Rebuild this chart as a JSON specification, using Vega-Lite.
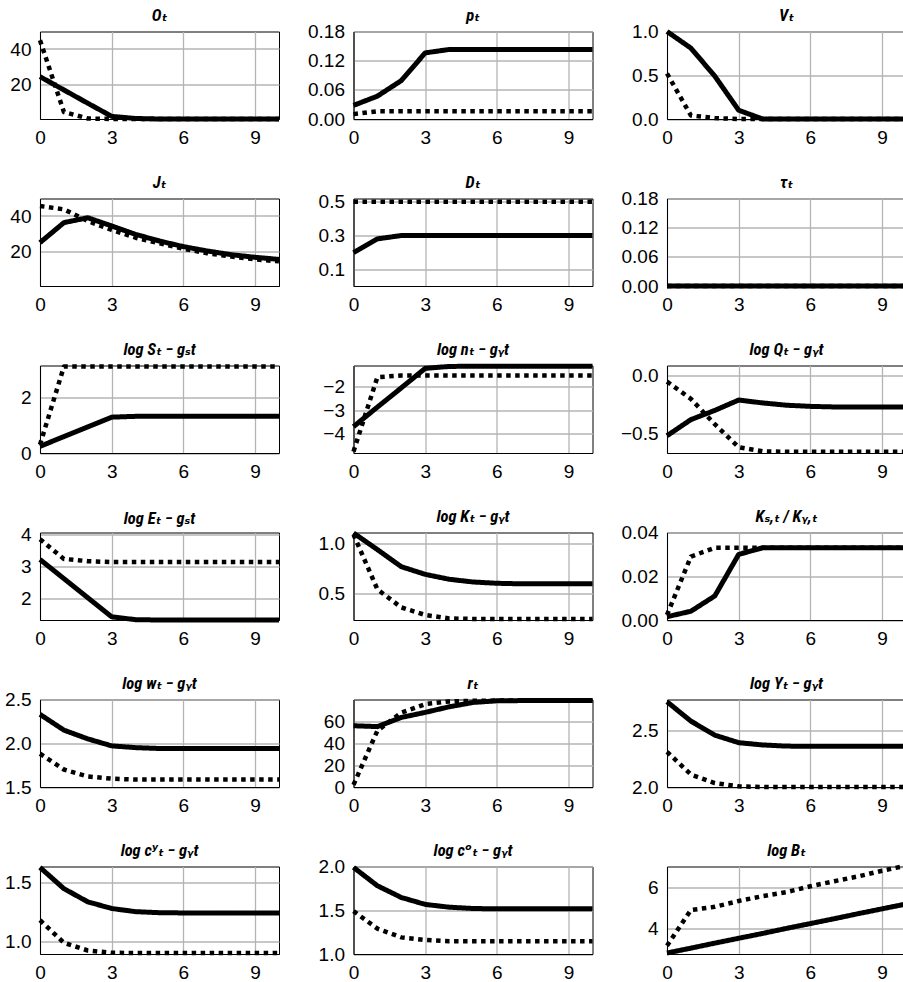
{
"$schema": "https://vega.github.io/schema/vega-lite/v6.json",
"padding": {"left": 0, "top": 7.5, "right": 0, "bottom": 0},
"background": "white",
"columns": 3,
"bounds": "flush",
"spacing": {"row": 79, "column": 74.5},
"data": {"values": [
{"v":"O","s":"d","t":0,"y":45},{"v":"O","s":"d","t":1,"y":4},{"v":"O","s":"d","t":2,"y":0.3},{"v":"O","s":"d","t":3,"y":0},{"v":"O","s":"d","t":4,"y":0},{"v":"O","s":"d","t":5,"y":0},{"v":"O","s":"d","t":6,"y":0},{"v":"O","s":"d","t":7,"y":0},{"v":"O","s":"d","t":8,"y":0},{"v":"O","s":"d","t":9,"y":0},{"v":"O","s":"d","t":10,"y":0},
{"v":"O","s":"s","t":0,"y":24.2},{"v":"O","s":"s","t":1,"y":16.6},{"v":"O","s":"s","t":2,"y":9},{"v":"O","s":"s","t":3,"y":1.5},{"v":"O","s":"s","t":4,"y":0.3},{"v":"O","s":"s","t":5,"y":0},{"v":"O","s":"s","t":6,"y":0},{"v":"O","s":"s","t":7,"y":0},{"v":"O","s":"s","t":8,"y":0},{"v":"O","s":"s","t":9,"y":0},{"v":"O","s":"s","t":10,"y":0},
{"v":"p","s":"d","t":0,"y":0.010},{"v":"p","s":"d","t":1,"y":0.016},{"v":"p","s":"d","t":2,"y":0.016},{"v":"p","s":"d","t":3,"y":0.016},{"v":"p","s":"d","t":4,"y":0.016},{"v":"p","s":"d","t":5,"y":0.016},{"v":"p","s":"d","t":6,"y":0.016},{"v":"p","s":"d","t":7,"y":0.016},{"v":"p","s":"d","t":8,"y":0.016},{"v":"p","s":"d","t":9,"y":0.016},{"v":"p","s":"d","t":10,"y":0.016},
{"v":"p","s":"s","t":0,"y":0.028},{"v":"p","s":"s","t":1,"y":0.047},{"v":"p","s":"s","t":2,"y":0.079},{"v":"p","s":"s","t":3,"y":0.136},{"v":"p","s":"s","t":4,"y":0.143},{"v":"p","s":"s","t":5,"y":0.143},{"v":"p","s":"s","t":6,"y":0.143},{"v":"p","s":"s","t":7,"y":0.143},{"v":"p","s":"s","t":8,"y":0.143},{"v":"p","s":"s","t":9,"y":0.143},{"v":"p","s":"s","t":10,"y":0.143},
{"v":"V","s":"d","t":0,"y":0.52},{"v":"V","s":"d","t":1,"y":0.04},{"v":"V","s":"d","t":2,"y":0.01},{"v":"V","s":"d","t":3,"y":0},{"v":"V","s":"d","t":4,"y":0},{"v":"V","s":"d","t":5,"y":0},{"v":"V","s":"d","t":6,"y":0},{"v":"V","s":"d","t":7,"y":0},{"v":"V","s":"d","t":8,"y":0},{"v":"V","s":"d","t":9,"y":0},{"v":"V","s":"d","t":10,"y":0},
{"v":"V","s":"s","t":0,"y":1.0},{"v":"V","s":"s","t":1,"y":0.81},{"v":"V","s":"s","t":2,"y":0.49},{"v":"V","s":"s","t":3,"y":0.1},{"v":"V","s":"s","t":4,"y":0},{"v":"V","s":"s","t":5,"y":0},{"v":"V","s":"s","t":6,"y":0},{"v":"V","s":"s","t":7,"y":0},{"v":"V","s":"s","t":8,"y":0},{"v":"V","s":"s","t":9,"y":0},{"v":"V","s":"s","t":10,"y":0},
{"v":"J","s":"d","t":0,"y":45.7},{"v":"J","s":"d","t":1,"y":43.8},{"v":"J","s":"d","t":2,"y":37.1},{"v":"J","s":"d","t":3,"y":32},{"v":"J","s":"d","t":4,"y":27.6},{"v":"J","s":"d","t":5,"y":24.4},{"v":"J","s":"d","t":6,"y":21.3},{"v":"J","s":"d","t":7,"y":18.7},{"v":"J","s":"d","t":8,"y":16.8},{"v":"J","s":"d","t":9,"y":15.2},{"v":"J","s":"d","t":10,"y":14.1},
{"v":"J","s":"s","t":0,"y":24.8},{"v":"J","s":"s","t":1,"y":36.2},{"v":"J","s":"s","t":2,"y":39},{"v":"J","s":"s","t":3,"y":34.3},{"v":"J","s":"s","t":4,"y":29.5},{"v":"J","s":"s","t":5,"y":25.7},{"v":"J","s":"s","t":6,"y":22.5},{"v":"J","s":"s","t":7,"y":20},{"v":"J","s":"s","t":8,"y":17.9},{"v":"J","s":"s","t":9,"y":16.4},{"v":"J","s":"s","t":10,"y":15.2},
{"v":"D","s":"d","t":0,"y":0.5},{"v":"D","s":"d","t":1,"y":0.5},{"v":"D","s":"d","t":2,"y":0.5},{"v":"D","s":"d","t":3,"y":0.5},{"v":"D","s":"d","t":4,"y":0.5},{"v":"D","s":"d","t":5,"y":0.5},{"v":"D","s":"d","t":6,"y":0.5},{"v":"D","s":"d","t":7,"y":0.5},{"v":"D","s":"d","t":8,"y":0.5},{"v":"D","s":"d","t":9,"y":0.5},{"v":"D","s":"d","t":10,"y":0.5},
{"v":"D","s":"s","t":0,"y":0.198},{"v":"D","s":"s","t":1,"y":0.28},{"v":"D","s":"s","t":2,"y":0.3},{"v":"D","s":"s","t":3,"y":0.3},{"v":"D","s":"s","t":4,"y":0.3},{"v":"D","s":"s","t":5,"y":0.3},{"v":"D","s":"s","t":6,"y":0.3},{"v":"D","s":"s","t":7,"y":0.3},{"v":"D","s":"s","t":8,"y":0.3},{"v":"D","s":"s","t":9,"y":0.3},{"v":"D","s":"s","t":10,"y":0.3},
{"v":"tau","s":"d","t":0,"y":0},{"v":"tau","s":"d","t":1,"y":0},{"v":"tau","s":"d","t":2,"y":0},{"v":"tau","s":"d","t":3,"y":0},{"v":"tau","s":"d","t":4,"y":0},{"v":"tau","s":"d","t":5,"y":0},{"v":"tau","s":"d","t":6,"y":0},{"v":"tau","s":"d","t":7,"y":0},{"v":"tau","s":"d","t":8,"y":0},{"v":"tau","s":"d","t":9,"y":0},{"v":"tau","s":"d","t":10,"y":0},
{"v":"tau","s":"s","t":0,"y":0},{"v":"tau","s":"s","t":1,"y":0},{"v":"tau","s":"s","t":2,"y":0},{"v":"tau","s":"s","t":3,"y":0},{"v":"tau","s":"s","t":4,"y":0},{"v":"tau","s":"s","t":5,"y":0},{"v":"tau","s":"s","t":6,"y":0},{"v":"tau","s":"s","t":7,"y":0},{"v":"tau","s":"s","t":8,"y":0},{"v":"tau","s":"s","t":9,"y":0},{"v":"tau","s":"s","t":10,"y":0},
{"v":"S","s":"d","t":0,"y":0.3},{"v":"S","s":"d","t":1,"y":3.11},{"v":"S","s":"d","t":2,"y":3.11},{"v":"S","s":"d","t":3,"y":3.11},{"v":"S","s":"d","t":4,"y":3.11},{"v":"S","s":"d","t":5,"y":3.11},{"v":"S","s":"d","t":6,"y":3.11},{"v":"S","s":"d","t":7,"y":3.11},{"v":"S","s":"d","t":8,"y":3.11},{"v":"S","s":"d","t":9,"y":3.11},{"v":"S","s":"d","t":10,"y":3.11},
{"v":"S","s":"s","t":0,"y":0.24},{"v":"S","s":"s","t":1,"y":0.59},{"v":"S","s":"s","t":2,"y":0.94},{"v":"S","s":"s","t":3,"y":1.29},{"v":"S","s":"s","t":4,"y":1.32},{"v":"S","s":"s","t":5,"y":1.32},{"v":"S","s":"s","t":6,"y":1.32},{"v":"S","s":"s","t":7,"y":1.32},{"v":"S","s":"s","t":8,"y":1.32},{"v":"S","s":"s","t":9,"y":1.32},{"v":"S","s":"s","t":10,"y":1.32},
{"v":"n","s":"d","t":0,"y":-4.74},{"v":"n","s":"d","t":1,"y":-1.61},{"v":"n","s":"d","t":2,"y":-1.54},{"v":"n","s":"d","t":3,"y":-1.54},{"v":"n","s":"d","t":4,"y":-1.54},{"v":"n","s":"d","t":5,"y":-1.54},{"v":"n","s":"d","t":6,"y":-1.54},{"v":"n","s":"d","t":7,"y":-1.54},{"v":"n","s":"d","t":8,"y":-1.54},{"v":"n","s":"d","t":9,"y":-1.54},{"v":"n","s":"d","t":10,"y":-1.54},
{"v":"n","s":"s","t":0,"y":-3.69},{"v":"n","s":"s","t":1,"y":-2.87},{"v":"n","s":"s","t":2,"y":-2.06},{"v":"n","s":"s","t":3,"y":-1.24},{"v":"n","s":"s","t":4,"y":-1.16},{"v":"n","s":"s","t":5,"y":-1.15},{"v":"n","s":"s","t":6,"y":-1.15},{"v":"n","s":"s","t":7,"y":-1.15},{"v":"n","s":"s","t":8,"y":-1.15},{"v":"n","s":"s","t":9,"y":-1.15},{"v":"n","s":"s","t":10,"y":-1.15},
{"v":"Q","s":"d","t":0,"y":-0.05},{"v":"Q","s":"d","t":1,"y":-0.2},{"v":"Q","s":"d","t":2,"y":-0.42},{"v":"Q","s":"d","t":3,"y":-0.62},{"v":"Q","s":"d","t":4,"y":-0.655},{"v":"Q","s":"d","t":5,"y":-0.66},{"v":"Q","s":"d","t":6,"y":-0.66},{"v":"Q","s":"d","t":7,"y":-0.66},{"v":"Q","s":"d","t":8,"y":-0.66},{"v":"Q","s":"d","t":9,"y":-0.66},{"v":"Q","s":"d","t":10,"y":-0.66},
{"v":"Q","s":"s","t":0,"y":-0.52},{"v":"Q","s":"s","t":1,"y":-0.38},{"v":"Q","s":"s","t":2,"y":-0.3},{"v":"Q","s":"s","t":3,"y":-0.21},{"v":"Q","s":"s","t":4,"y":-0.235},{"v":"Q","s":"s","t":5,"y":-0.255},{"v":"Q","s":"s","t":6,"y":-0.265},{"v":"Q","s":"s","t":7,"y":-0.27},{"v":"Q","s":"s","t":8,"y":-0.27},{"v":"Q","s":"s","t":9,"y":-0.27},{"v":"Q","s":"s","t":10,"y":-0.27},
{"v":"E","s":"d","t":0,"y":3.86},{"v":"E","s":"d","t":1,"y":3.24},{"v":"E","s":"d","t":2,"y":3.17},{"v":"E","s":"d","t":3,"y":3.14},{"v":"E","s":"d","t":4,"y":3.14},{"v":"E","s":"d","t":5,"y":3.14},{"v":"E","s":"d","t":6,"y":3.14},{"v":"E","s":"d","t":7,"y":3.14},{"v":"E","s":"d","t":8,"y":3.14},{"v":"E","s":"d","t":9,"y":3.14},{"v":"E","s":"d","t":10,"y":3.14},
{"v":"E","s":"s","t":0,"y":3.22},{"v":"E","s":"s","t":1,"y":2.62},{"v":"E","s":"s","t":2,"y":2.02},{"v":"E","s":"s","t":3,"y":1.42},{"v":"E","s":"s","t":4,"y":1.33},{"v":"E","s":"s","t":5,"y":1.32},{"v":"E","s":"s","t":6,"y":1.32},{"v":"E","s":"s","t":7,"y":1.32},{"v":"E","s":"s","t":8,"y":1.32},{"v":"E","s":"s","t":9,"y":1.32},{"v":"E","s":"s","t":10,"y":1.32},
{"v":"K","s":"d","t":0,"y":1.09},{"v":"K","s":"d","t":1,"y":0.545},{"v":"K","s":"d","t":2,"y":0.365},{"v":"K","s":"d","t":3,"y":0.29},{"v":"K","s":"d","t":4,"y":0.256},{"v":"K","s":"d","t":5,"y":0.25},{"v":"K","s":"d","t":6,"y":0.25},{"v":"K","s":"d","t":7,"y":0.25},{"v":"K","s":"d","t":8,"y":0.25},{"v":"K","s":"d","t":9,"y":0.25},{"v":"K","s":"d","t":10,"y":0.25},
{"v":"K","s":"s","t":0,"y":1.105},{"v":"K","s":"s","t":1,"y":0.94},{"v":"K","s":"s","t":2,"y":0.77},{"v":"K","s":"s","t":3,"y":0.694},{"v":"K","s":"s","t":4,"y":0.645},{"v":"K","s":"s","t":5,"y":0.618},{"v":"K","s":"s","t":6,"y":0.605},{"v":"K","s":"s","t":7,"y":0.6},{"v":"K","s":"s","t":8,"y":0.6},{"v":"K","s":"s","t":9,"y":0.6},{"v":"K","s":"s","t":10,"y":0.6},
{"v":"Ks","s":"d","t":0,"y":0.0023},{"v":"Ks","s":"d","t":1,"y":0.029},{"v":"Ks","s":"d","t":2,"y":0.033},{"v":"Ks","s":"d","t":3,"y":0.033},{"v":"Ks","s":"d","t":4,"y":0.033},{"v":"Ks","s":"d","t":5,"y":0.033},{"v":"Ks","s":"d","t":6,"y":0.033},{"v":"Ks","s":"d","t":7,"y":0.033},{"v":"Ks","s":"d","t":8,"y":0.033},{"v":"Ks","s":"d","t":9,"y":0.033},{"v":"Ks","s":"d","t":10,"y":0.033},
{"v":"Ks","s":"s","t":0,"y":0.0015},{"v":"Ks","s":"s","t":1,"y":0.004},{"v":"Ks","s":"s","t":2,"y":0.011},{"v":"Ks","s":"s","t":3,"y":0.03},{"v":"Ks","s":"s","t":4,"y":0.033},{"v":"Ks","s":"s","t":5,"y":0.033},{"v":"Ks","s":"s","t":6,"y":0.033},{"v":"Ks","s":"s","t":7,"y":0.033},{"v":"Ks","s":"s","t":8,"y":0.033},{"v":"Ks","s":"s","t":9,"y":0.033},{"v":"Ks","s":"s","t":10,"y":0.033},
{"v":"w","s":"d","t":0,"y":1.88},{"v":"w","s":"d","t":1,"y":1.7},{"v":"w","s":"d","t":2,"y":1.62},{"v":"w","s":"d","t":3,"y":1.595},{"v":"w","s":"d","t":4,"y":1.585},{"v":"w","s":"d","t":5,"y":1.585},{"v":"w","s":"d","t":6,"y":1.585},{"v":"w","s":"d","t":7,"y":1.585},{"v":"w","s":"d","t":8,"y":1.585},{"v":"w","s":"d","t":9,"y":1.585},{"v":"w","s":"d","t":10,"y":1.585},
{"v":"w","s":"s","t":0,"y":2.33},{"v":"w","s":"s","t":1,"y":2.15},{"v":"w","s":"s","t":2,"y":2.05},{"v":"w","s":"s","t":3,"y":1.97},{"v":"w","s":"s","t":4,"y":1.95},{"v":"w","s":"s","t":5,"y":1.94},{"v":"w","s":"s","t":6,"y":1.94},{"v":"w","s":"s","t":7,"y":1.94},{"v":"w","s":"s","t":8,"y":1.94},{"v":"w","s":"s","t":9,"y":1.94},{"v":"w","s":"s","t":10,"y":1.94},
{"v":"r","s":"d","t":0,"y":2},{"v":"r","s":"d","t":1,"y":51.5},{"v":"r","s":"d","t":2,"y":68},{"v":"r","s":"d","t":3,"y":75.8},{"v":"r","s":"d","t":4,"y":78.2},{"v":"r","s":"d","t":5,"y":78.8},{"v":"r","s":"d","t":6,"y":79},{"v":"r","s":"d","t":7,"y":79},{"v":"r","s":"d","t":8,"y":79},{"v":"r","s":"d","t":9,"y":79},{"v":"r","s":"d","t":10,"y":79},
{"v":"r","s":"s","t":0,"y":56},{"v":"r","s":"s","t":1,"y":55.2},{"v":"r","s":"s","t":2,"y":63.6},{"v":"r","s":"s","t":3,"y":68.2},{"v":"r","s":"s","t":4,"y":73.3},{"v":"r","s":"s","t":5,"y":77.3},{"v":"r","s":"s","t":6,"y":78.8},{"v":"r","s":"s","t":7,"y":79},{"v":"r","s":"s","t":8,"y":79},{"v":"r","s":"s","t":9,"y":79},{"v":"r","s":"s","t":10,"y":79},
{"v":"Y","s":"d","t":0,"y":2.31},{"v":"Y","s":"d","t":1,"y":2.11},{"v":"Y","s":"d","t":2,"y":2.035},{"v":"Y","s":"d","t":3,"y":2.006},{"v":"Y","s":"d","t":4,"y":2.0},{"v":"Y","s":"d","t":5,"y":2.0},{"v":"Y","s":"d","t":6,"y":2.0},{"v":"Y","s":"d","t":7,"y":2.0},{"v":"Y","s":"d","t":8,"y":2.0},{"v":"Y","s":"d","t":9,"y":2.0},{"v":"Y","s":"d","t":10,"y":2.0},
{"v":"Y","s":"s","t":0,"y":2.75},{"v":"Y","s":"s","t":1,"y":2.58},{"v":"Y","s":"s","t":2,"y":2.456},{"v":"Y","s":"s","t":3,"y":2.39},{"v":"Y","s":"s","t":4,"y":2.37},{"v":"Y","s":"s","t":5,"y":2.36},{"v":"Y","s":"s","t":6,"y":2.358},{"v":"Y","s":"s","t":7,"y":2.358},{"v":"Y","s":"s","t":8,"y":2.358},{"v":"Y","s":"s","t":9,"y":2.358},{"v":"Y","s":"s","t":10,"y":2.358},
{"v":"cy","s":"d","t":0,"y":1.18},{"v":"cy","s":"d","t":1,"y":0.986},{"v":"cy","s":"d","t":2,"y":0.92},{"v":"cy","s":"d","t":3,"y":0.9},{"v":"cy","s":"d","t":4,"y":0.899},{"v":"cy","s":"d","t":5,"y":0.899},{"v":"cy","s":"d","t":6,"y":0.899},{"v":"cy","s":"d","t":7,"y":0.899},{"v":"cy","s":"d","t":8,"y":0.899},{"v":"cy","s":"d","t":9,"y":0.899},{"v":"cy","s":"d","t":10,"y":0.899},
{"v":"cy","s":"s","t":0,"y":1.632},{"v":"cy","s":"s","t":1,"y":1.45},{"v":"cy","s":"s","t":2,"y":1.337},{"v":"cy","s":"s","t":3,"y":1.28},{"v":"cy","s":"s","t":4,"y":1.253},{"v":"cy","s":"s","t":5,"y":1.244},{"v":"cy","s":"s","t":6,"y":1.242},{"v":"cy","s":"s","t":7,"y":1.242},{"v":"cy","s":"s","t":8,"y":1.242},{"v":"cy","s":"s","t":9,"y":1.242},{"v":"cy","s":"s","t":10,"y":1.242},
{"v":"co","s":"d","t":0,"y":1.49},{"v":"co","s":"d","t":1,"y":1.29},{"v":"co","s":"d","t":2,"y":1.19},{"v":"co","s":"d","t":3,"y":1.16},{"v":"co","s":"d","t":4,"y":1.146},{"v":"co","s":"d","t":5,"y":1.146},{"v":"co","s":"d","t":6,"y":1.146},{"v":"co","s":"d","t":7,"y":1.146},{"v":"co","s":"d","t":8,"y":1.146},{"v":"co","s":"d","t":9,"y":1.146},{"v":"co","s":"d","t":10,"y":1.146},
{"v":"co","s":"s","t":0,"y":1.99},{"v":"co","s":"s","t":1,"y":1.78},{"v":"co","s":"s","t":2,"y":1.646},{"v":"co","s":"s","t":3,"y":1.567},{"v":"co","s":"s","t":4,"y":1.535},{"v":"co","s":"s","t":5,"y":1.52},{"v":"co","s":"s","t":6,"y":1.516},{"v":"co","s":"s","t":7,"y":1.516},{"v":"co","s":"s","t":8,"y":1.516},{"v":"co","s":"s","t":9,"y":1.516},{"v":"co","s":"s","t":10,"y":1.516},
{"v":"B","s":"d","t":0,"y":3.13},{"v":"B","s":"d","t":1,"y":4.9},{"v":"B","s":"d","t":2,"y":5.06},{"v":"B","s":"d","t":3,"y":5.35},{"v":"B","s":"d","t":4,"y":5.59},{"v":"B","s":"d","t":5,"y":5.79},{"v":"B","s":"d","t":6,"y":6.08},{"v":"B","s":"d","t":7,"y":6.33},{"v":"B","s":"d","t":8,"y":6.57},{"v":"B","s":"d","t":9,"y":6.85},{"v":"B","s":"d","t":10,"y":7.1},
{"v":"B","s":"s","t":0,"y":2.77},{"v":"B","s":"s","t":1,"y":3.01},{"v":"B","s":"s","t":2,"y":3.26},{"v":"B","s":"s","t":3,"y":3.5},{"v":"B","s":"s","t":4,"y":3.74},{"v":"B","s":"s","t":5,"y":3.99},{"v":"B","s":"s","t":6,"y":4.23},{"v":"B","s":"s","t":7,"y":4.47},{"v":"B","s":"s","t":8,"y":4.72},{"v":"B","s":"s","t":9,"y":4.96},{"v":"B","s":"s","t":10,"y":5.2}
]},
"config": {
  "view": {"stroke": "#000", "strokeWidth": 1},
  "axis": {"grid": true, "gridColor": "#b4b4b4", "gridWidth": 1.3, "domainColor": "#000", "domainWidth": 1, "ticks": false, "labelFont": "Liberation Sans", "labelFontSize": 19, "labelColor": "#000", "labelPadding": 9, "labelOverlap": false, "labelFlush": false},
  "axisX": {"minExtent": 28, "maxExtent": 28},
  "axisY": {"minExtent": 39.5, "maxExtent": 39.5},
  "title": {"font": "Roboto Condensed, DejaVu Sans Condensed, Roboto, sans-serif", "fontSize": 16.5, "fontWeight": "bold", "fontStyle": "italic", "offset": -2, "baseline": "alphabetic", "color": "#000", "anchor": "middle", "frame": "group"},
  "line": {"strokeCap": "butt", "strokeJoin": "round", "color": "#000"}
},
"concat": [
{"title": "Oₜ", "width": 239, "height": 87.5, "transform": [{"filter": "datum.v === 'O'"}], "mark": "line",
 "encoding": {"x": {"field": "t", "type": "quantitative", "scale": {"domain": [0, 10], "nice": false}, "axis": {"values": [0,3,6,9], "title": null}},
  "y": {"field": "y", "type": "quantitative", "scale": {"domain": [0, 50], "nice": false, "zero": false}, "axis": {"values": [20,40,50], "format": "d", "title": null, "labelExpr": "datum.value > 45 ? ' ' : datum.label", "gridOpacity": {"condition": {"test": "datum.value > 45", "value": 0}, "value": 1}}},
  "strokeDash": {"field": "s", "type": "nominal", "scale": {"domain": ["d","s"], "range": [[4.5,4.5],[1,0]]}, "legend": null},
  "strokeWidth": {"field": "s", "type": "nominal", "scale": {"domain": ["d","s"], "range": [4.5,5]}, "legend": null}}},
{"title": "pₜ", "width": 239, "height": 87.5, "transform": [{"filter": "datum.v === 'p'"}], "mark": "line",
 "encoding": {"x": {"field": "t", "type": "quantitative", "scale": {"domain": [0, 10], "nice": false}, "axis": {"values": [0,3,6,9], "title": null}},
  "y": {"field": "y", "type": "quantitative", "scale": {"domain": [0, 0.18], "nice": false, "zero": false}, "axis": {"values": [0,0.06,0.12,0.18], "format": ".2f", "title": null}},
  "strokeDash": {"field": "s", "type": "nominal", "scale": {"domain": ["d","s"], "range": [[4.5,4.5],[1,0]]}, "legend": null},
  "strokeWidth": {"field": "s", "type": "nominal", "scale": {"domain": ["d","s"], "range": [4.5,5]}, "legend": null}}},
{"title": "Vₜ", "width": 239, "height": 87.5, "transform": [{"filter": "datum.v === 'V'"}], "mark": "line",
 "encoding": {"x": {"field": "t", "type": "quantitative", "scale": {"domain": [0, 10], "nice": false}, "axis": {"values": [0,3,6,9], "title": null}},
  "y": {"field": "y", "type": "quantitative", "scale": {"domain": [0, 1], "nice": false, "zero": false}, "axis": {"values": [0,0.5,1], "format": ".1f", "title": null}},
  "strokeDash": {"field": "s", "type": "nominal", "scale": {"domain": ["d","s"], "range": [[4.5,4.5],[1,0]]}, "legend": null},
  "strokeWidth": {"field": "s", "type": "nominal", "scale": {"domain": ["d","s"], "range": [4.5,5]}, "legend": null}}},
{"title": "Jₜ", "width": 239, "height": 87.5, "transform": [{"filter": "datum.v === 'J'"}], "mark": "line",
 "encoding": {"x": {"field": "t", "type": "quantitative", "scale": {"domain": [0, 10], "nice": false}, "axis": {"values": [0,3,6,9], "title": null}},
  "y": {"field": "y", "type": "quantitative", "scale": {"domain": [0, 50], "nice": false, "zero": false}, "axis": {"values": [20,40,50], "format": "d", "title": null, "labelExpr": "datum.value > 45 ? ' ' : datum.label", "gridOpacity": {"condition": {"test": "datum.value > 45", "value": 0}, "value": 1}}},
  "strokeDash": {"field": "s", "type": "nominal", "scale": {"domain": ["d","s"], "range": [[4.5,4.5],[1,0]]}, "legend": null},
  "strokeWidth": {"field": "s", "type": "nominal", "scale": {"domain": ["d","s"], "range": [4.5,5]}, "legend": null}}},
{"title": "Dₜ", "width": 239, "height": 87.5, "transform": [{"filter": "datum.v === 'D'"}], "mark": "line",
 "encoding": {"x": {"field": "t", "type": "quantitative", "scale": {"domain": [0, 10], "nice": false}, "axis": {"values": [0,3,6,9], "title": null}},
  "y": {"field": "y", "type": "quantitative", "scale": {"domain": [0, 0.52], "nice": false, "zero": false}, "axis": {"values": [0.1,0.3,0.5,0.52], "format": ".1f", "title": null, "labelExpr": "datum.value > 0.51 ? ' ' : datum.label", "gridOpacity": {"condition": {"test": "datum.value > 0.51", "value": 0}, "value": 1}}},
  "strokeDash": {"field": "s", "type": "nominal", "scale": {"domain": ["d","s"], "range": [[4.5,4.5],[1,0]]}, "legend": null},
  "strokeWidth": {"field": "s", "type": "nominal", "scale": {"domain": ["d","s"], "range": [4.5,5]}, "legend": null}}},
{"title": "τₜ", "width": 239, "height": 87.5, "transform": [{"filter": "datum.v === 'tau'"}], "mark": "line",
 "encoding": {"x": {"field": "t", "type": "quantitative", "scale": {"domain": [0, 10], "nice": false}, "axis": {"values": [0,3,6,9], "title": null}},
  "y": {"field": "y", "type": "quantitative", "scale": {"domain": [0, 0.18], "nice": false, "zero": false}, "axis": {"values": [0,0.06,0.12,0.18], "format": ".2f", "title": null}},
  "strokeDash": {"field": "s", "type": "nominal", "scale": {"domain": ["d","s"], "range": [[4.5,4.5],[1,0]]}, "legend": null},
  "strokeWidth": {"field": "s", "type": "nominal", "scale": {"domain": ["d","s"], "range": [4.5,5]}, "legend": null}}},
{"title": "log Sₜ − gₛt", "width": 239, "height": 87.5, "transform": [{"filter": "datum.v === 'S'"}], "mark": "line",
 "encoding": {"x": {"field": "t", "type": "quantitative", "scale": {"domain": [0, 10], "nice": false}, "axis": {"values": [0,3,6,9], "title": null}},
  "y": {"field": "y", "type": "quantitative", "scale": {"domain": [0, 3.15], "nice": false, "zero": false}, "axis": {"values": [0,2,3.15], "format": "d", "title": null, "labelExpr": "datum.value > 3 ? ' ' : datum.label", "gridOpacity": {"condition": {"test": "datum.value > 3", "value": 0}, "value": 1}}},
  "strokeDash": {"field": "s", "type": "nominal", "scale": {"domain": ["d","s"], "range": [[4.5,4.5],[1,0]]}, "legend": null},
  "strokeWidth": {"field": "s", "type": "nominal", "scale": {"domain": ["d","s"], "range": [4.5,5]}, "legend": null}}},
{"title": "log nₜ − gᵧt", "width": 239, "height": 87.5, "transform": [{"filter": "datum.v === 'n'"}], "mark": "line",
 "encoding": {"x": {"field": "t", "type": "quantitative", "scale": {"domain": [0, 10], "nice": false}, "axis": {"values": [0,3,6,9], "title": null}},
  "y": {"field": "y", "type": "quantitative", "scale": {"domain": [-4.8, -1.12], "nice": false, "zero": false}, "axis": {"values": [-4,-3,-2,-1.12], "format": "d", "title": null, "labelExpr": "datum.value > -1.5 ? ' ' : datum.label", "gridOpacity": {"condition": {"test": "datum.value > -1.5", "value": 0}, "value": 1}}},
  "strokeDash": {"field": "s", "type": "nominal", "scale": {"domain": ["d","s"], "range": [[4.5,4.5],[1,0]]}, "legend": null},
  "strokeWidth": {"field": "s", "type": "nominal", "scale": {"domain": ["d","s"], "range": [4.5,5]}, "legend": null}}},
{"title": "log Qₜ − gᵧt", "width": 239, "height": 87.5, "transform": [{"filter": "datum.v === 'Q'"}], "mark": "line",
 "encoding": {"x": {"field": "t", "type": "quantitative", "scale": {"domain": [0, 10], "nice": false}, "axis": {"values": [0,3,6,9], "title": null}},
  "y": {"field": "y", "type": "quantitative", "scale": {"domain": [-0.67, 0.09], "nice": false, "zero": false}, "axis": {"values": [-0.5,0,0.09], "format": ".1f", "title": null, "labelExpr": "datum.value > 0.05 ? ' ' : datum.label", "gridOpacity": {"condition": {"test": "datum.value > 0.05", "value": 0}, "value": 1}}},
  "strokeDash": {"field": "s", "type": "nominal", "scale": {"domain": ["d","s"], "range": [[4.5,4.5],[1,0]]}, "legend": null},
  "strokeWidth": {"field": "s", "type": "nominal", "scale": {"domain": ["d","s"], "range": [4.5,5]}, "legend": null}}},
{"title": "log Eₜ − gₛt", "width": 239, "height": 87.5, "transform": [{"filter": "datum.v === 'E'"}], "mark": "line",
 "encoding": {"x": {"field": "t", "type": "quantitative", "scale": {"domain": [0, 10], "nice": false}, "axis": {"values": [0,3,6,9], "title": null}},
  "y": {"field": "y", "type": "quantitative", "scale": {"domain": [1.32, 4.07], "nice": false, "zero": false}, "axis": {"values": [2,3,4], "format": "d", "title": null}},
  "strokeDash": {"field": "s", "type": "nominal", "scale": {"domain": ["d","s"], "range": [[4.5,4.5],[1,0]]}, "legend": null},
  "strokeWidth": {"field": "s", "type": "nominal", "scale": {"domain": ["d","s"], "range": [4.5,5]}, "legend": null}}},
{"title": "log Kₜ − gᵧt", "width": 239, "height": 87.5, "transform": [{"filter": "datum.v === 'K'"}], "mark": "line",
 "encoding": {"x": {"field": "t", "type": "quantitative", "scale": {"domain": [0, 10], "nice": false}, "axis": {"values": [0,3,6,9], "title": null}},
  "y": {"field": "y", "type": "quantitative", "scale": {"domain": [0.24, 1.11], "nice": false, "zero": false}, "axis": {"values": [0.5,1,1.11], "format": ".1f", "title": null, "labelExpr": "datum.value > 1.05 ? ' ' : datum.label", "gridOpacity": {"condition": {"test": "datum.value > 1.05", "value": 0}, "value": 1}}},
  "strokeDash": {"field": "s", "type": "nominal", "scale": {"domain": ["d","s"], "range": [[4.5,4.5],[1,0]]}, "legend": null},
  "strokeWidth": {"field": "s", "type": "nominal", "scale": {"domain": ["d","s"], "range": [4.5,5]}, "legend": null}}},
{"title": "Kₛ,ₜ / Kᵧ,ₜ", "width": 239, "height": 87.5, "transform": [{"filter": "datum.v === 'Ks'"}], "mark": "line",
 "encoding": {"x": {"field": "t", "type": "quantitative", "scale": {"domain": [0, 10], "nice": false}, "axis": {"values": [0,3,6,9], "title": null}},
  "y": {"field": "y", "type": "quantitative", "scale": {"domain": [0, 0.04], "nice": false, "zero": false}, "axis": {"values": [0,0.02,0.04], "format": ".2f", "title": null}},
  "strokeDash": {"field": "s", "type": "nominal", "scale": {"domain": ["d","s"], "range": [[4.5,4.5],[1,0]]}, "legend": null},
  "strokeWidth": {"field": "s", "type": "nominal", "scale": {"domain": ["d","s"], "range": [4.5,5]}, "legend": null}}},
{"title": "log wₜ − gᵧt", "width": 239, "height": 87.5, "transform": [{"filter": "datum.v === 'w'"}], "mark": "line",
 "encoding": {"x": {"field": "t", "type": "quantitative", "scale": {"domain": [0, 10], "nice": false}, "axis": {"values": [0,3,6,9], "title": null}},
  "y": {"field": "y", "type": "quantitative", "scale": {"domain": [1.5, 2.5], "nice": false, "zero": false}, "axis": {"values": [1.5,2,2.5], "format": ".1f", "title": null}},
  "strokeDash": {"field": "s", "type": "nominal", "scale": {"domain": ["d","s"], "range": [[4.5,4.5],[1,0]]}, "legend": null},
  "strokeWidth": {"field": "s", "type": "nominal", "scale": {"domain": ["d","s"], "range": [4.5,5]}, "legend": null}}},
{"title": "rₜ", "width": 239, "height": 87.5, "transform": [{"filter": "datum.v === 'r'"}], "mark": "line",
 "encoding": {"x": {"field": "t", "type": "quantitative", "scale": {"domain": [0, 10], "nice": false}, "axis": {"values": [0,3,6,9], "title": null}},
  "y": {"field": "y", "type": "quantitative", "scale": {"domain": [0, 80], "nice": false, "zero": false}, "axis": {"values": [0,20,40,60,80], "format": "d", "title": null, "labelExpr": "datum.value > 70 ? ' ' : datum.label", "gridOpacity": {"condition": {"test": "datum.value > 70", "value": 0}, "value": 1}}},
  "strokeDash": {"field": "s", "type": "nominal", "scale": {"domain": ["d","s"], "range": [[4.5,4.5],[1,0]]}, "legend": null},
  "strokeWidth": {"field": "s", "type": "nominal", "scale": {"domain": ["d","s"], "range": [4.5,5]}, "legend": null}}},
{"title": "log Yₜ − gᵧt", "width": 239, "height": 87.5, "transform": [{"filter": "datum.v === 'Y'"}], "mark": "line",
 "encoding": {"x": {"field": "t", "type": "quantitative", "scale": {"domain": [0, 10], "nice": false}, "axis": {"values": [0,3,6,9], "title": null}},
  "y": {"field": "y", "type": "quantitative", "scale": {"domain": [2, 2.77], "nice": false, "zero": false}, "axis": {"values": [2,2.5,2.77], "format": ".1f", "title": null, "labelExpr": "datum.value > 2.7 ? ' ' : datum.label", "gridOpacity": {"condition": {"test": "datum.value > 2.7", "value": 0}, "value": 1}}},
  "strokeDash": {"field": "s", "type": "nominal", "scale": {"domain": ["d","s"], "range": [[4.5,4.5],[1,0]]}, "legend": null},
  "strokeWidth": {"field": "s", "type": "nominal", "scale": {"domain": ["d","s"], "range": [4.5,5]}, "legend": null}}},
{"title": "log cʸₜ − gᵧt", "width": 239, "height": 87.5, "transform": [{"filter": "datum.v === 'cy'"}], "mark": "line",
 "encoding": {"x": {"field": "t", "type": "quantitative", "scale": {"domain": [0, 10], "nice": false}, "axis": {"values": [0,3,6,9], "title": null}},
  "y": {"field": "y", "type": "quantitative", "scale": {"domain": [0.89, 1.64], "nice": false, "zero": false}, "axis": {"values": [1,1.5,1.64], "format": ".1f", "title": null, "labelExpr": "datum.value > 1.6 ? ' ' : datum.label", "gridOpacity": {"condition": {"test": "datum.value > 1.6", "value": 0}, "value": 1}}},
  "strokeDash": {"field": "s", "type": "nominal", "scale": {"domain": ["d","s"], "range": [[4.5,4.5],[1,0]]}, "legend": null},
  "strokeWidth": {"field": "s", "type": "nominal", "scale": {"domain": ["d","s"], "range": [4.5,5]}, "legend": null}}},
{"title": "log cᵒₜ − gᵧt", "width": 239, "height": 87.5, "transform": [{"filter": "datum.v === 'co'"}], "mark": "line",
 "encoding": {"x": {"field": "t", "type": "quantitative", "scale": {"domain": [0, 10], "nice": false}, "axis": {"values": [0,3,6,9], "title": null}},
  "y": {"field": "y", "type": "quantitative", "scale": {"domain": [1, 2], "nice": false, "zero": false}, "axis": {"values": [1,1.5,2], "format": ".1f", "title": null}},
  "strokeDash": {"field": "s", "type": "nominal", "scale": {"domain": ["d","s"], "range": [[4.5,4.5],[1,0]]}, "legend": null},
  "strokeWidth": {"field": "s", "type": "nominal", "scale": {"domain": ["d","s"], "range": [4.5,5]}, "legend": null}}},
{"title": "log Bₜ", "width": 239, "height": 87.5, "transform": [{"filter": "datum.v === 'B'"}], "mark": "line",
 "encoding": {"x": {"field": "t", "type": "quantitative", "scale": {"domain": [0, 10], "nice": false}, "axis": {"values": [0,3,6,9], "title": null}},
  "y": {"field": "y", "type": "quantitative", "scale": {"domain": [2.72, 7.06], "nice": false, "zero": false}, "axis": {"values": [4,6,7.06], "format": "d", "title": null, "labelExpr": "datum.value > 7 ? ' ' : datum.label", "gridOpacity": {"condition": {"test": "datum.value > 7", "value": 0}, "value": 1}}},
  "strokeDash": {"field": "s", "type": "nominal", "scale": {"domain": ["d","s"], "range": [[4.5,4.5],[1,0]]}, "legend": null},
  "strokeWidth": {"field": "s", "type": "nominal", "scale": {"domain": ["d","s"], "range": [4.5,5]}, "legend": null}}}
]
}
